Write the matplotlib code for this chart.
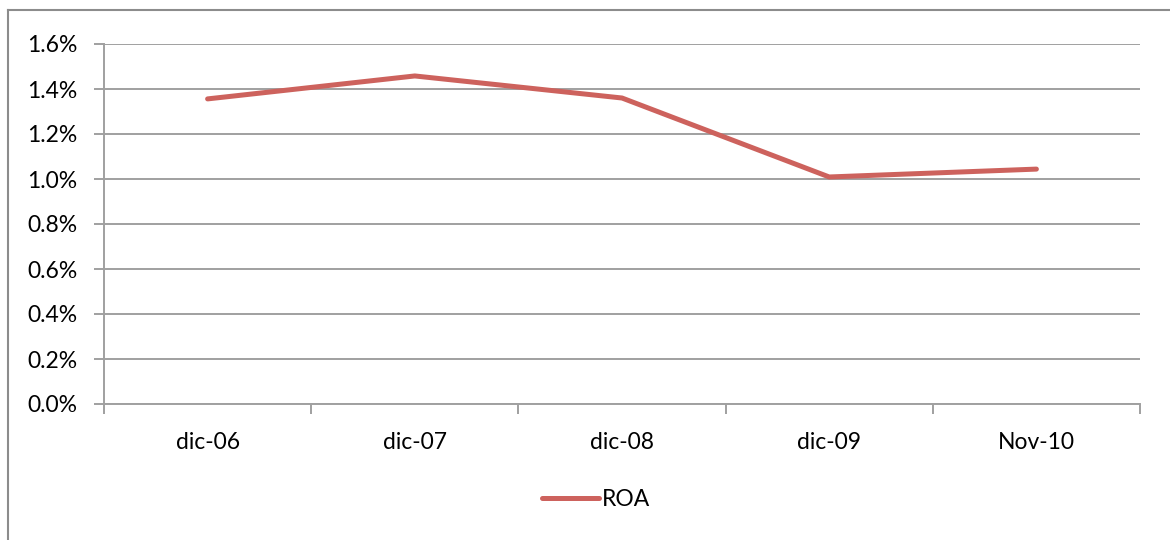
import matplotlib.pyplot as plt
from matplotlib.lines import Line2D
from matplotlib.ticker import FuncFormatter, MultipleLocator

# ROA by period
periods = ["dic-06", "dic-07", "dic-08", "dic-09", "Nov-10"]
roa = [0.01356, 0.01458, 0.01360, 0.01009, 0.01044]
series_name = "ROA"

W, H = 1170, 540
plt.rcParams["font.family"] = ["Lato", "DejaVu Sans"]

fig = plt.figure(figsize=(W / 100, H / 100), dpi=100)
ax = fig.add_axes([104 / W, 1 - 404 / H, (1140 - 104) / W, (404 - 44) / H])

line_color = "#CD625D"
grid_color = "#A0A0A0"

ax.plot(range(len(periods)), roa, color=line_color, linewidth=3.6,
        solid_capstyle="round", solid_joinstyle="round", label=series_name, zorder=3)

ax.set_xlim(-0.5, len(periods) - 0.5)
ax.set_ylim(0, 0.016)
ax.yaxis.set_major_locator(MultipleLocator(0.002))
ax.yaxis.set_major_formatter(FuncFormatter(lambda v, _: f"{v * 100:.1f}%"))
ax.grid(axis="y", color=grid_color, linewidth=1.4, zorder=1)

# category ticks on the boundaries, labels centred
ax.set_xticks([i - 0.5 for i in range(len(periods) + 1)])
ax.set_xticklabels([])
ax.set_xticks(range(len(periods)), minor=True)
ax.set_xticklabels(periods, minor=True)
ax.tick_params(axis="x", which="major", length=7, width=1.4, color=grid_color, direction="out")
ax.tick_params(axis="x", which="minor", length=0, pad=20, labelsize=16.5)
ax.tick_params(axis="y", length=7, width=1.4, color=grid_color, pad=12, labelsize=16.5)

for side in ("top", "right"):
    ax.spines[side].set_visible(False)
for side in ("left", "bottom"):
    ax.spines[side].set_color(grid_color)
    ax.spines[side].set_linewidth(1.4)

leg = fig.legend(loc="center", bbox_to_anchor=(596 / W, 1 - 500 / H), frameon=False,
                 fontsize=16.5, handlelength=2.5, handletextpad=0.1)

# outer chart border (cropped on the right and bottom)
fig.add_artist(Line2D([8 / W, 8 / W], [0, 1 - 10 / H], transform=fig.transFigure,
                      color="#8C8C8C", linewidth=1.5))
fig.add_artist(Line2D([8 / W, 1], [1 - 10 / H, 1 - 10 / H], transform=fig.transFigure,
                      color="#8C8C8C", linewidth=1.5))

fig.savefig("out.png", dpi=100, facecolor="white")
